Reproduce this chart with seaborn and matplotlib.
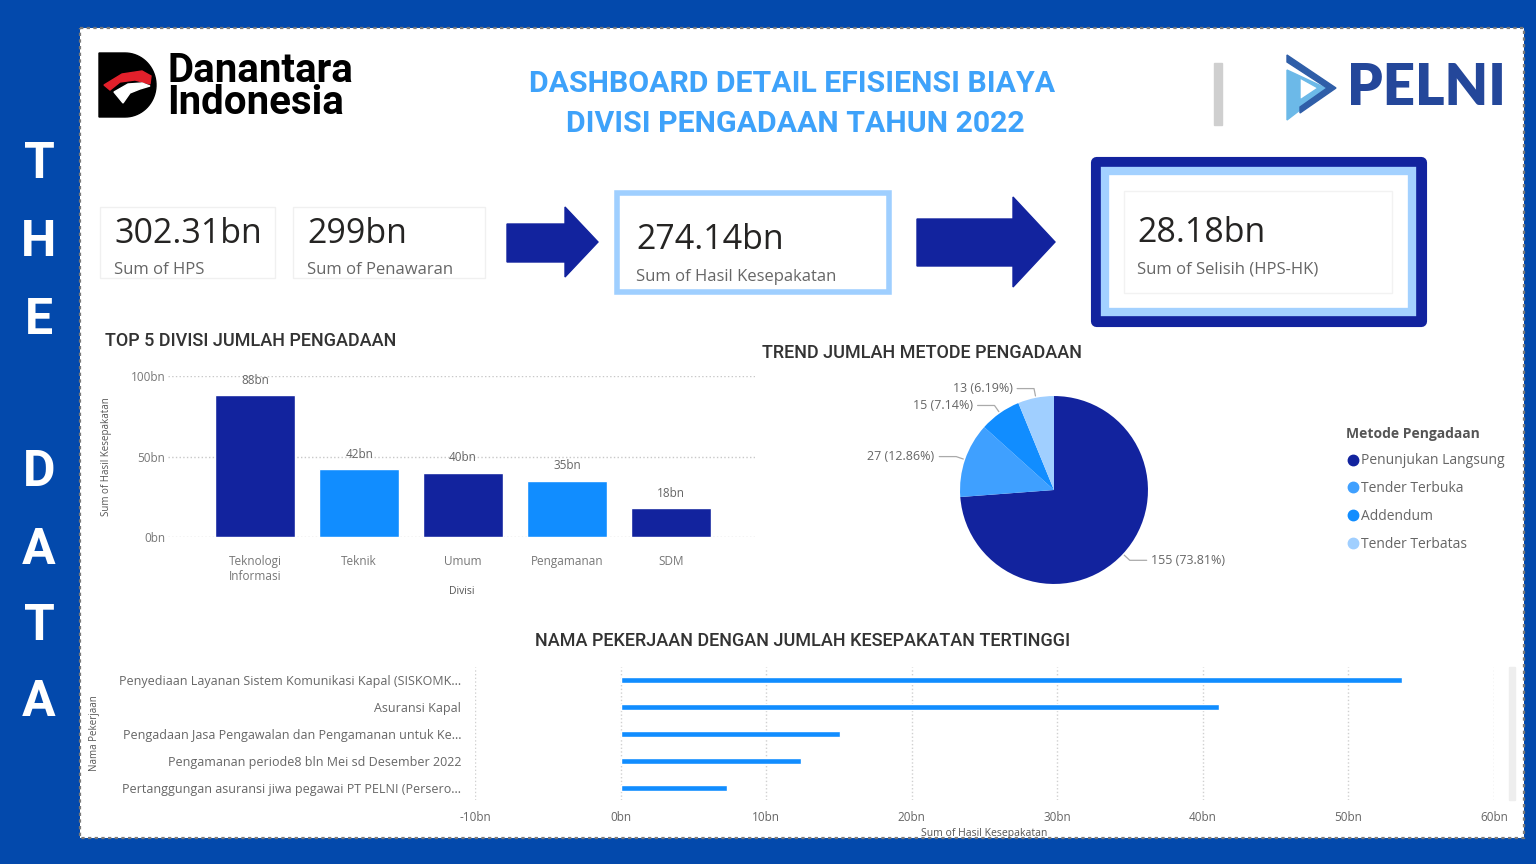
import numpy as np
import pandas as pd
import matplotlib
matplotlib.use("Agg")
import matplotlib.pyplot as plt
import seaborn as sns
from matplotlib.patches import Rectangle, Polygon
from matplotlib.lines import Line2D
from matplotlib.ticker import FuncFormatter

# Data
kpi_values = ["302.31bn", "299bn", "274.14bn", "28.18bn"]
kpi_labels = ["Sum of HPS", "Sum of Penawaran", "Sum of Hasil Kesepakatan", "Sum of Selisih (HPS-HK)"]

divisi = ["Teknologi\nInformasi", "Teknik", "Umum", "Pengamanan", "SDM"]
divisi_values = [88, 42, 40, 35, 18]

metode = ["Penunjukan Langsung", "Tender Terbuka", "Addendum", "Tender Terbatas"]
metode_counts = [155, 27, 15, 13]
metode_pct = ["73.81%", "12.86%", "7.14%", "6.19%"]

pekerjaan = ["Penyediaan Layanan Sistem Komunikasi Kapal (SISKOMK...",
             "Asuransi Kapal",
             "Pengadaan Jasa Pengawalan dan Pengamanan untuk Ke...",
             "Pengamanan periode8 bln Mei sd Desember 2022",
             "Pertanggungan asuransi jiwa pegawai PT PELNI (Persero..."]
pekerjaan_values = [53.7, 41.1, 15.1, 12.4, 7.3]

NAVY = "#12239E"
BLUE = "#118DFF"
LIGHT = "#A0CFFF"
OUTER = "#0349AC"
TITLE_BLUE = "#3EA2FA"

sns.set_theme(style="white")
plt.rcParams["font.family"] = ["Open Sans", "DejaVu Sans"]

W, H = 1536, 864
fig = plt.figure(figsize=(W / 100, H / 100), dpi=100)
fig.patch.set_facecolor(OUTER)


def box(x0, y0, x1, y1):
    return [x0 / W, 1 - y1 / H, (x1 - x0) / W, (y1 - y0) / H]


# background canvas in pixel coordinates
bg = fig.add_axes([0, 0, 1, 1])
bg.set_xlim(0, W)
bg.set_ylim(H, 0)
bg.axis("off")
bg.add_patch(Rectangle((80, 28), 1444, 810, facecolor="white", edgecolor="#7a7a7a",
                       lw=1.6, ls=(0, (1.5, 1.5))))

# vertical "THE DATA" strip
for ch, y in zip("THEDATA", [165, 242, 320, 472, 550, 627, 703]):
    bg.text(39, y, ch, color="white", fontsize=36, fontweight="bold",
            ha="center", va="center", family=["Roboto", "DejaVu Sans"])

# Danantara logo
d_shape = [(99, 53), (125, 53)] + [(125 + 31 * np.cos(a), 85 + 32 * np.sin(a))
                                   for a in np.linspace(-np.pi / 2, np.pi / 2, 40)] + [(99, 117)]
bg.add_patch(Polygon(d_shape, closed=True, color="black"))
bg.add_patch(Polygon([(104, 85), (122, 74), (142, 71), (151, 76), (150, 84), (135, 80), (120, 82), (110, 90)],
                     closed=True, color="#E3202B"))
bg.add_patch(Polygon([(114, 92), (128, 84), (142, 83), (150, 86), (140, 89), (130, 93), (123, 103)],
                     closed=True, color="white"))
bg.text(167, 87, "Danantara\nIndonesia", fontsize=29, fontweight="bold", color="black", va="center",
        linespacing=0.82, family=["Roboto", "DejaVu Sans"])

# title
title_font = dict(fontsize=21.8, fontweight="bold", color=TITLE_BLUE, ha="center", va="center",
                  family=["Roboto", "DejaVu Sans"])
bg.text(792, 84, "DASHBOARD DETAIL EFISIENSI BIAYA", **title_font)
bg.text(795, 124, "DIVISI PENGADAAN TAHUN 2022", **title_font)

# PELNI logo
bg.add_patch(Rectangle((1214, 63), 8, 62, color="#cfcfcf"))
bg.add_patch(Polygon([(1287, 70), (1287, 120), (1300, 110), (1300, 78), (1318, 88), (1300, 100), (1300, 108), (1330, 90)],
                     closed=True, color="#6CB9E8"))
bg.add_patch(Polygon([(1287, 55), (1336, 88), (1300, 113), (1300, 107), (1327, 88), (1287, 62)],
                     closed=True, color="#2F5EA8"))
bg.text(1347, 88, "PELNI", fontsize=40.5, fontweight="heavy", color="#24479A", va="center",
        family=["Lato", "DejaVu Sans"])

# KPI cards
bg.add_patch(Rectangle((100, 207), 175, 71, facecolor="white", edgecolor="#f0f0f0", lw=1))
bg.add_patch(Rectangle((293, 207), 192, 71, facecolor="white", edgecolor="#f0f0f0", lw=1))
bg.add_patch(Rectangle((617, 193), 272, 99, facecolor="white", edgecolor="#9FCFFF", lw=4))
bg.add_patch(Rectangle((1096, 162), 325, 159, facecolor="none", edgecolor=NAVY, lw=8, joinstyle="round"))
bg.add_patch(Rectangle((1105, 171), 307, 141, facecolor="white", edgecolor="#A3D1FF", lw=6))
bg.add_patch(Rectangle((1124, 191), 268, 102, facecolor="white", edgecolor="#f2f2f2", lw=1))
kpi_pos = [(114, 234, 270), (307, 234, 270), (636, 240, 277), (1137, 233, 269)]
for val, lab, (x, yv, yl) in zip(kpi_values, kpi_labels, kpi_pos):
    bg.text(x, yv, val, fontsize=24.5, color="#252423", va="center")
    bg.text(x, yl, lab, fontsize=12, color="#666666", va="center")

# arrows
bg.add_patch(Polygon([(507, 224), (565, 224), (565, 207), (598, 242), (565, 277), (565, 262), (507, 262)],
                     closed=True, color=NAVY))
bg.add_patch(Polygon([(917, 219), (1013, 219), (1013, 197), (1055, 242), (1013, 287), (1013, 266), (917, 266)],
                     closed=True, color=NAVY))

# section titles
sec_font = dict(fontsize=13, color="#333333", va="center", fontweight="medium", family=["Roboto", "DejaVu Sans"])
bg.text(105, 341, "TOP 5 DIVISI JUMLAH PENGADAAN", **sec_font)
bg.text(762, 353, "TREND JUMLAH METODE PENGADAAN", **sec_font)
bg.text(803, 641, "NAMA PEKERJAAN DENGAN JUMLAH KESEPAKATAN TERTINGGI", ha="center", **sec_font)

bn = FuncFormatter(lambda v, p: f"{v:.0f}bn")

# top 5 divisi bar chart
ax1 = fig.add_axes(box(168, 376, 755, 537))
ax1.set_facecolor("none")
df1 = pd.DataFrame({"Divisi": divisi, "Nilai": divisi_values})
sns.barplot(data=df1, x="Divisi", y="Nilai", hue="Divisi", palette=[NAVY, BLUE, NAVY, BLUE, NAVY],
            width=0.77, legend=False, ax=ax1, saturation=1)
for cont in ax1.containers:
    ax1.bar_label(cont, labels=[f"{v:.0f}bn" for v in cont.datavalues], padding=6, fontsize=8.5, color="#666666")
ax1.set_xlim(-0.84, 4.81)
ax1.set_ylim(0, 100)
ax1.set_yticks([0, 50, 100])
ax1.yaxis.set_major_formatter(bn)
ax1.grid(axis="y", color="#c8c8c8", ls=":", lw=1)
ax1.set_axisbelow(True)
sns.despine(ax=ax1, left=True, bottom=True)
ax1.tick_params(length=0, labelsize=8.5, labelcolor="#777777")
ax1.tick_params(axis="x", pad=13)
ax1.tick_params(axis="y", pad=2)
ax1.set_ylabel("Sum of Hasil Kesepakatan", fontsize=7, color="#555555")
ax1.yaxis.set_label_coords(-0.095, 0.5)
ax1.set_xlabel("Divisi", fontsize=7.5, color="#555555", labelpad=2)

# pie chart
ax2 = fig.add_axes(box(854, 370, 1254, 610))
ax2.set_facecolor("none")
pie_colors = [NAVY, "#3FA0FF", BLUE, LIGHT]
wedges, _ = ax2.pie(metode_counts, colors=pie_colors, startangle=90, counterclock=False,
                    wedgeprops=dict(linewidth=0))
ax2.set_xlim(-2.128, 2.128)
ax2.set_ylim(-1.277, 1.277)
ax2.set_aspect("equal")
for w, c, p in zip(wedges, metode_counts, metode_pct):
    ang = np.deg2rad((w.theta1 + w.theta2) / 2)
    ex, ey = 1.02 * np.cos(ang), 1.02 * np.sin(ang)
    kx, ky = 1.1 * np.cos(ang), 1.1 * np.sin(ang)
    side = 1 if np.cos(ang) >= 0 else -1
    hx = kx + side * 0.18
    ax2.plot([ex, kx, hx], [ey, ky, ky], color="#aaaaaa", lw=0.9)
    ax2.text(hx + side * 0.05, ky, f"{c} ({p})", fontsize=9, color="#666666",
             ha="left" if side > 0 else "right", va="center")
handles = [Line2D([], [], marker="o", ls="", color=c, markersize=7.5) for c in pie_colors]
leg = ax2.legend(handles, metode, title="Metode Pengadaan", loc="upper left",
                 bbox_to_anchor=(1334 / W, 1 - 414 / H), bbox_transform=fig.transFigure,
                 frameon=False, fontsize=10, labelspacing=0.93, handletextpad=0.05,
                 handlelength=1.0, alignment="left")
leg.get_title().set_fontsize(10)
leg.get_title().set_fontweight("bold")
leg.get_title().set_color("#555555")
for txt in leg.get_texts():
    txt.set_color("#666666")

# nama pekerjaan horizontal bars
ax3 = fig.add_axes(box(475, 667, 1494, 800))
ax3.set_facecolor("none")
df3 = pd.DataFrame({"Pekerjaan": pekerjaan, "Nilai": pekerjaan_values})
sns.barplot(data=df3, y="Pekerjaan", x="Nilai", color=BLUE, width=0.22, orient="h", ax=ax3, saturation=1)
ax3.set_xlim(-10, 60)
ax3.set_ylim(4.44, -0.48)
ax3.set_xticks(range(-10, 61, 10))
ax3.xaxis.set_major_formatter(bn)
ax3.grid(axis="x", color="#d0d0d0", ls=":", lw=1)
ax3.set_axisbelow(True)
sns.despine(ax=ax3, left=True, bottom=True)
ax3.tick_params(length=0, labelsize=8.5, labelcolor="#666666")
ax3.tick_params(axis="y", labelsize=9, pad=10)
ax3.tick_params(axis="x", pad=8)
ax3.set_ylabel("Nama Pekerjaan", fontsize=7, color="#555555")
ax3.yaxis.set_label_coords(-0.368, 0.5)
ax3.set_xlabel("Sum of Hasil Kesepakatan", fontsize=7.5, color="#555555", labelpad=3)
bg.add_patch(Rectangle((1509, 667), 6, 133, color="#eeeeee"))

fig.savefig("out.png", dpi=100, facecolor=fig.get_facecolor())
